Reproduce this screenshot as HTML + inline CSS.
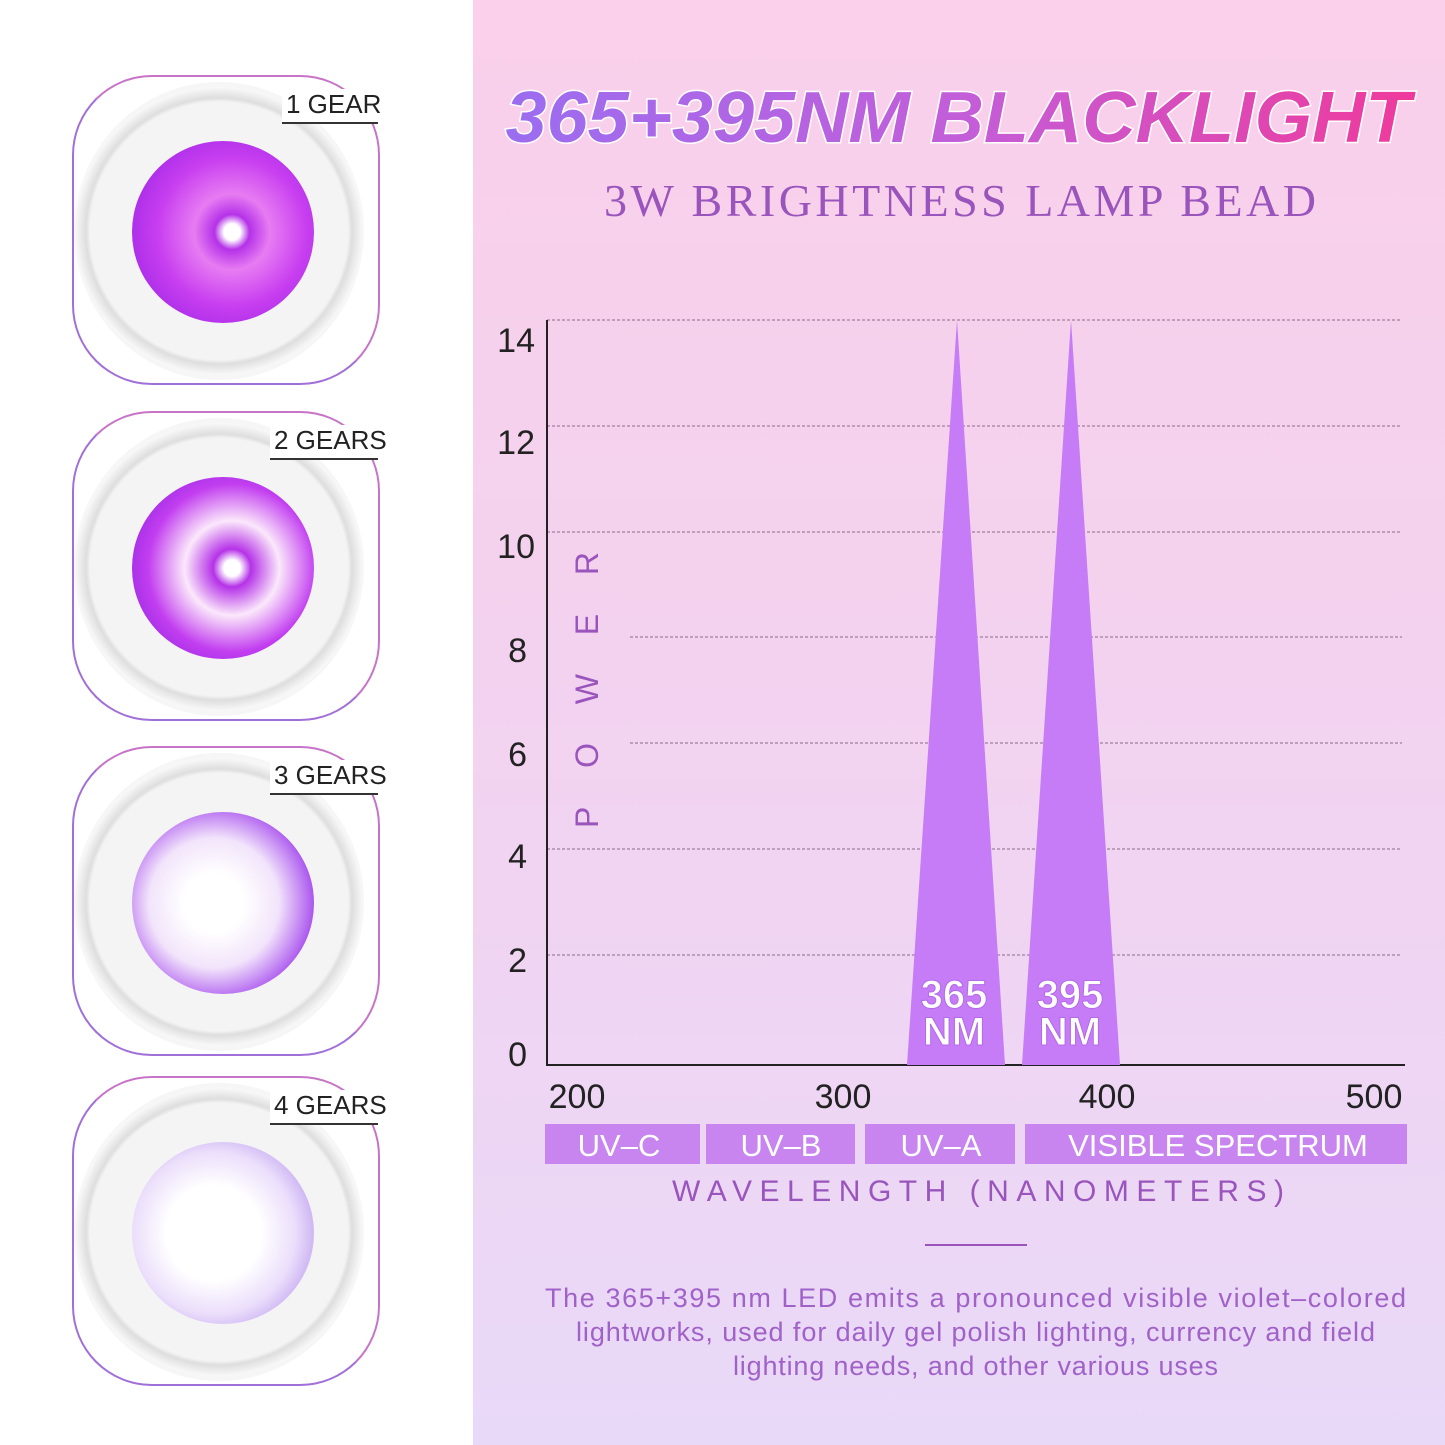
<!DOCTYPE html><html><head><style>
body{margin:0;width:1445px;height:1445px;position:relative;overflow:hidden;background:#fff;font-family:"Liberation Sans",sans-serif}
.right{position:absolute;left:473px;top:0;width:972px;height:1445px;background:linear-gradient(180deg,#fad0ea 0%,#f3d2ef 45%,#e9d9f8 100%)}
.lamp{position:absolute;left:72px;width:308px;height:310px;border:2px solid #c26bd0;border-radius:80px;box-sizing:border-box;border-color:#c774c8 #c774c8 #a070d8 #a070d8}
.disk{position:absolute;left:0;top:5px;width:290px;height:298px;border-radius:50%;background:radial-gradient(circle at 50% 50%,#f4f4f4 62%,#dedede 64%,#f7f7f7 69%,#e4e4e4 100%)}
.lens{position:absolute;left:58px;top:64px;width:182px;height:182px;border-radius:50%}
.lbl{position:absolute;right:0;top:12px;font-size:26px;color:#222;border-bottom:2px solid #333;padding:0 0 2px 4px;background:#fff;white-space:nowrap}
</style></head><body>
<div class="right"></div>
<div class="lamp" style="top:75px"><div class="disk"></div><div class="lens" style="background:radial-gradient(circle at 55% 50%,#fff 6%,#b532e8 13%,#e77cf2 28%,#c83ef0 55%,#8a1de0 100%)"></div><div class="lbl" style="width:92px">1 GEAR</div></div>
<div class="lamp" style="top:411px"><div class="disk"></div><div class="lens" style="background:radial-gradient(circle at 55% 50%,#fff 6%,#b532e8 14%,#fbe8fb 35%,#c23ef0 62%,#7a18d8 100%)"></div><div class="lbl" style="width:104px">2 GEARS</div></div>
<div class="lamp" style="top:746px"><div class="disk"></div><div class="lens" style="background:radial-gradient(circle at 45% 50%,#fff 22%,#f2e4fb 48%,#a850ee 75%,#7418d8 100%)"></div><div class="lbl" style="width:104px">3 GEARS</div></div>
<div class="lamp" style="top:1076px"><div class="disk"></div><div class="lens" style="background:radial-gradient(circle at 45% 50%,#fff 35%,#ebdefb 60%,#9a6ee6 100%)"></div><div class="lbl" style="width:104px">4 GEARS</div></div>
<svg width="1445" height="1445" style="position:absolute;left:0;top:0">
<defs><linearGradient id="tg" x1="0" x2="1"><stop offset="0" stop-color="#9b6df0"/><stop offset="0.5" stop-color="#c35ed9"/><stop offset="1" stop-color="#ef3a9c"/></linearGradient></defs>
<text x="958" y="142" text-anchor="middle" font-family="Liberation Sans" font-weight="bold" font-style="italic" font-size="72" fill="url(#tg)" stroke="#fff" stroke-width="3" paint-order="stroke" textLength="905" lengthAdjust="spacingAndGlyphs">365+395NM BLACKLIGHT</text>
<text x="960" y="216" text-anchor="middle" font-family="Liberation Serif" font-size="46" fill="#9a55bd" textLength="712" lengthAdjust="spacing">3W BRIGHTNESS LAMP BEAD</text>
<g stroke="#8a6a8a" stroke-width="1" stroke-dasharray="3,2">
<line x1="547" x2="1402" y1="320" y2="320"/><line x1="547" x2="1402" y1="426" y2="426"/><line x1="547" x2="1402" y1="532" y2="532"/><line x1="630" x2="1402" y1="637" y2="637"/><line x1="630" x2="1402" y1="743" y2="743"/><line x1="547" x2="1402" y1="849" y2="849"/><line x1="547" x2="1402" y1="955" y2="955"/></g>
<line x1="547" y1="320" x2="547" y2="1066" stroke="#222" stroke-width="2"/>
<line x1="546" y1="1065" x2="1405" y2="1065" stroke="#222" stroke-width="2"/>
<g font-size="34" fill="#222" text-anchor="end"><text x="535" y="352">14</text><text x="535" y="454">12</text><text x="535" y="558">10</text><text x="527" y="662">8</text><text x="527" y="766">6</text><text x="527" y="868">4</text><text x="527" y="972">2</text><text x="527" y="1066">0</text></g>
<g font-size="34" fill="#222" text-anchor="middle"><text x="577" y="1108">200</text><text x="843" y="1108">300</text><text x="1107" y="1108">400</text><text x="1374" y="1108">500</text></g>
<text transform="translate(598,828) rotate(-90)" font-size="32" fill="#9a55bd" textLength="276" lengthAdjust="spacing">POWER</text>
<polygon points="957,320 907,1065 1005,1065" fill="#c67cf6"/>
<polygon points="1071,320 1022,1065 1120,1065" fill="#c67cf6"/>
<g font-size="40" font-weight="bold" fill="#fff" text-anchor="middle" stroke="#b46ae8" stroke-width="1"><text x="954" y="1008">365</text><text x="954" y="1045">NM</text><text x="1070" y="1008">395</text><text x="1070" y="1045">NM</text></g>
<g fill="#c885f0"><rect x="545" y="1124" width="155" height="40"/><rect x="706" y="1124" width="149" height="40"/><rect x="865" y="1124" width="150" height="40"/><rect x="1025" y="1124" width="382" height="40"/></g>
<g font-size="31" fill="#fff" text-anchor="middle"><text x="619" y="1156">UV–C</text><text x="781" y="1156">UV–B</text><text x="941" y="1156">UV–A</text><text x="1218" y="1156">VISIBLE SPECTRUM</text></g>
<text x="672" y="1201" font-size="30" fill="#9a55bd" textLength="612" lengthAdjust="spacing">WAVELENGTH (NANOMETERS)</text>
<line x1="925" x2="1027" y1="1245" y2="1245" stroke="#9a55bd" stroke-width="2"/>
<g font-size="27" fill="#a062c8"><text x="545" y="1307" textLength="861" lengthAdjust="spacing">The 365+395 nm LED emits a pronounced visible violet–colored</text><text x="576" y="1341" textLength="799" lengthAdjust="spacing">lightworks, used for daily gel polish lighting, currency and field</text><text x="733" y="1375" textLength="485" lengthAdjust="spacing">lighting needs, and other various uses</text></g>
</svg>
</body></html>
